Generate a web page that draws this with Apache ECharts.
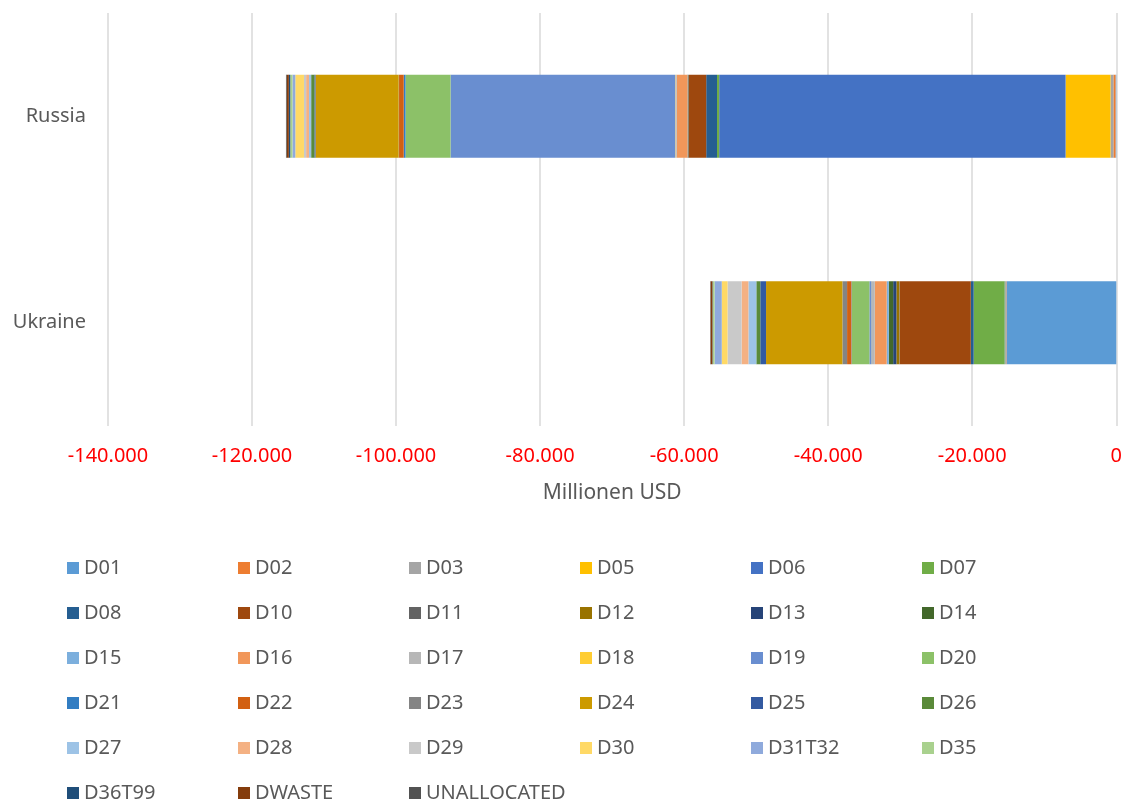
<!DOCTYPE html>
<html>
<head>
<meta charset="utf-8">
<script src="https://cdn.jsdelivr.net/npm/echarts@6/dist/echarts.min.js"></script>
<style>html,body{margin:0;padding:0;background:#fff;}#c{width:1125px;height:804px;}</style>
</head>
<body>
<div id="c"></div>
<script>
const categories = ['Ukraine', 'Russia'];
const seriesNames = ['D01','D02','D03','D05','D06','D07','D08','D10','D11','D12','D13','D14','D15','D16','D17','D18','D19','D20','D21','D22','D23','D24','D25','D26','D27','D28','D29','D30','D31T32','D35','D36T99','DWASTE','UNALLOCATED'];
const russiaValues = [-100,-300,-400,-6240,-48100,-300,-1500,-2400,-100,-30,-30,-20,-20,-1500,-150,-50,-31200,-6250,-250,-650,-50,-11550,-150,-450,-300,-400,-300,-1200,-400,-300,-200,-300,-100];
const ukraineValues = [-15250,-50,-50,-50,-100,-4300,-400,-9880,-50,-400,-450,-600,-300,-1650,-400,-50,-300,-2450,-50,-600,-650,-10600,-800,-550,-1100,-950,-1950,-800,-1000,-250,-50,-250,-50];
const xTicks = [-140000,-120000,-100000,-80000,-60000,-40000,-20000,0];

const colors = ['#5B9BD5','#ED7D31','#A5A5A5','#FFC000','#4472C4','#70AD47','#255E91','#9E480E','#636363','#997300','#264478','#43682B','#7CAFDD','#F1975A','#B7B7B7','#FFCD33','#698ED0','#8CC168','#327DC2','#D26012','#848484','#CC9A00','#335AA1','#5A8A39','#9DC3E6','#F4B183','#C9C9C9','#FFD966','#8FAADC','#A9D18E','#1F4E79','#843C0C','#525252'];

function fmt(v){
  if (v === 0) return '0';
  const s = Math.abs(v).toString().replace(/\B(?=(\d{3})+(?!\d))/g, '.');
  return (v < 0 ? '-' : '') + s;
}

const chart = echarts.init(document.getElementById('c'), null, {renderer:'canvas'});
const FONT = 'Noto Sans';
const series = seriesNames.map((n, i) => ({
  name: n,
  type: 'bar',
  stack: 'total',
  barWidth: 83,
  itemStyle: {color: colors[i]},
  data: [ukraineValues[i], russiaValues[i]]
}));

chart.setOption({
  animation: false,
  textStyle: {fontFamily: FONT},
  grid: {left: 108, right: 7, top: 13, bottom: 378, containLabel: false},
  xAxis: {
    type: 'value',
    min: xTicks[0], max: xTicks[xTicks.length-1], interval: 20000,
    axisLine: {show: false}, axisTick: {show: false},
    splitLine: {show: true, lineStyle: {color: '#D9D9D9', width: 1.5}},
    axisLabel: {color: '#FF0000', fontSize: 20, margin: 20, formatter: fmt, fontFamily: FONT},
    name: 'Millionen USD', nameLocation: 'middle', nameGap: 57,
    nameTextStyle: {color: '#595959', fontSize: 21, fontFamily: FONT}
  },
  yAxis: {
    type: 'category',
    data: categories,
    position: 'left',
    axisLine: {show: false, onZero: false}, axisTick: {show: false},
    axisLabel: {color: '#595959', fontSize: 20, margin: 22, fontFamily: FONT}
  },
  legend: {
    left: 62, top: 545, width: 1045,
    itemWidth: 12, itemHeight: 12, itemGap: 9,
    icon: 'rect',
    selectedMode: false,
    textStyle: {color: '#595959', fontSize: 20, width: 145, lineHeight: 36, fontFamily: FONT, padding: [0,0,0,0]},
    data: seriesNames
  },
  series: series
});
</script>
</body>
</html>
